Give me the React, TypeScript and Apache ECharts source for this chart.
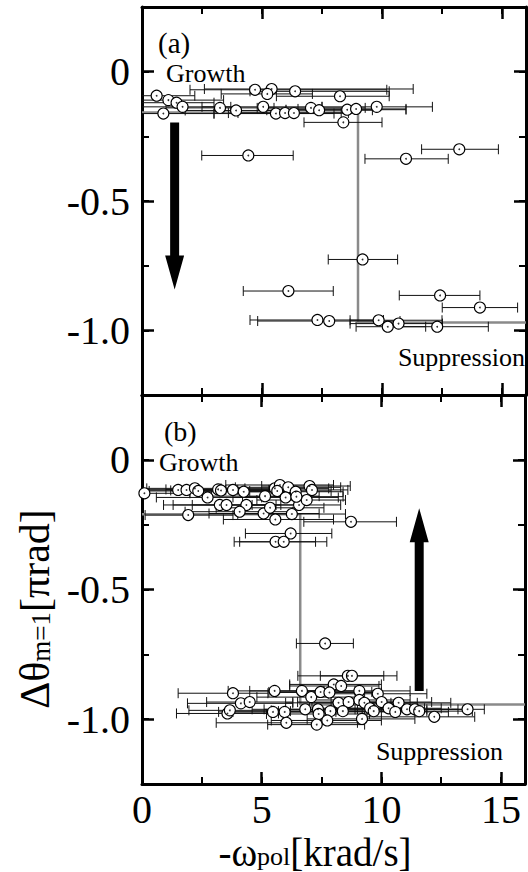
import React, { useEffect, useRef } from 'react';
import * as echarts from 'echarts';

const FONT = 'Liberation Serif';

const xTickLabels = ['0', '5', '10', '15'];
const yTickLabels = ['-1.25', '-1.0', '-0.75', '-0.5', '-0.25', '0', '0.25'];

// panel (a): [-omega_pol, dtheta, err low, err high]
const pointsA: number[][] = [
  [4.71, -0.070, 2.0, 10.2], [5.40, -0.067, 2.6, 11.3], [5.22, -0.086, 3.3, 7.1],
  [6.38, -0.076, 4.5, 10.3], [8.25, -0.095, 5.6, 10.3], [0.61, -0.093, -1.5, 2.2],
  [1.10, -0.110, -1.0, 3.4], [1.44, -0.120, -0.8, 3.0], [1.69, -0.136, -0.5, 3.7],
  [0.89, -0.162, -1.0, 3.0], [3.25, -0.140, 1.0, 5.5], [3.92, -0.150, 1.8, 6.0],
  [5.05, -0.136, 2.5, 7.5], [5.58, -0.162, 3.0, 8.0], [5.96, -0.160, 3.6, 8.3],
  [6.33, -0.160, 4.0, 8.6], [7.04, -0.140, 4.8, 9.3], [7.38, -0.149, 5.2, 9.6],
  [8.55, -0.147, 6.0, 11.0], [8.92, -0.144, 6.5, 11.0], [9.78, -0.136, 7.5, 12.1],
  [8.39, -0.196, 6.75, 10.0], [4.43, -0.324, 2.49, 6.3], [11.0, -0.337, 9.29, 12.76],
  [13.22, -0.300, 11.65, 14.85], [9.19, -0.726, 7.76, 10.65], [6.10, -0.848, 4.22, 7.97],
  [12.42, -0.865, 10.72, 14.08], [14.08, -0.912, 12.51, 15.65], [7.31, -0.960, 4.5, 10.06],
  [7.80, -0.964, 4.82, 10.75], [9.86, -0.961, 8.67, 12.5], [10.24, -0.986, 8.92, 11.82],
  [10.69, -0.974, 8.67, 12.52], [12.30, -0.986, 10.2, 14.43],
];

// panel (b)
const pointsB: number[][] = [
  [0.10, -0.129, -2.0, 2.0], [1.51, -0.116, -0.5, 3.5], [1.86, -0.116, -0.3, 4.0],
  [2.21, -0.110, 0.2, 4.3], [2.35, -0.120, 0.3, 4.5], [2.74, -0.145, 0.6, 5.0],
  [3.18, -0.114, 1.0, 5.4], [3.30, -0.118, 1.2, 5.5], [3.80, -0.116, 1.6, 6.0],
  [4.25, -0.123, 2.0, 6.5], [3.25, -0.174, 0.9, 5.6], [3.53, -0.174, 1.3, 5.8],
  [4.36, -0.174, 2.1, 6.6], [4.08, -0.200, 1.8, 6.3], [1.93, -0.213, 0.13, 3.8],
  [5.08, -0.207, 2.8, 7.4], [5.57, -0.230, 3.4, 8.0], [6.26, -0.209, 4.0, 8.5],
  [5.14, -0.140, 2.9, 7.4], [5.35, -0.185, 3.1, 7.6], [5.55, -0.110, 3.3, 7.8],
  [5.76, -0.097, 3.5, 8.0], [6.11, -0.106, 3.9, 8.3], [5.65, -0.120, 3.4, 7.9],
  [6.00, -0.145, 3.8, 8.2], [6.42, -0.123, 4.3, 8.4], [6.56, -0.174, 4.6, 8.3],
  [6.88, -0.155, 4.8, 8.5], [7.00, -0.101, 5.0, 8.7], [7.10, -0.116, 5.3, 8.6],
  [6.45, -0.142, 4.2, 8.4], [8.73, -0.239, 6.76, 10.63], [6.21, -0.284, 4.32, 7.93],
  [5.58, -0.316, 3.85, 7.25], [5.92, -0.316, 4.08, 7.72],
  [7.65, -0.708, 6.45, 8.83], [8.60, -0.833, 6.51, 10.1], [8.77, -0.833, 7.45, 10.65],
  [8.01, -0.866, 6.17, 10.0], [8.32, -0.872, 6.17, 9.9], [3.80, -0.900, 1.51, 5.26],
  [5.54, -0.891, 3.6, 7.6], [6.68, -0.891, 4.5, 8.9], [7.07, -0.915, 4.8, 9.3],
  [7.46, -0.895, 5.3, 9.6], [7.83, -0.897, 5.6, 10.0], [9.08, -0.891, 6.8, 11.2],
  [9.85, -0.902, 7.8, 11.9], [4.13, -0.939, 1.9, 6.3], [4.50, -0.934, 2.7, 6.3],
  [8.21, -0.937, 6.0, 10.4], [8.63, -0.934, 6.5, 10.8], [9.08, -0.926, 7.0, 11.2],
  [9.29, -0.937, 7.1, 11.5], [10.01, -0.934, 7.9, 12.1], [10.72, -0.937, 8.6, 12.9],
  [3.57, -0.978, 1.44, 5.7], [3.67, -0.966, 1.96, 5.4], [5.47, -0.972, 3.2, 7.7],
  [5.96, -0.972, 3.8, 8.1], [6.82, -0.962, 4.6, 9.0], [7.35, -0.962, 5.1, 9.6],
  [7.38, -0.980, 5.2, 9.5], [7.87, -0.969, 5.7, 10.0], [8.39, -0.969, 6.2, 10.6],
  [9.53, -0.958, 7.3, 11.8], [9.68, -0.969, 7.5, 11.9], [10.30, -0.958, 8.1, 12.5],
  [10.58, -0.972, 8.4, 12.8], [11.07, -0.962, 8.9, 13.2], [11.40, -0.962, 9.2, 13.6],
  [11.58, -0.969, 9.4, 13.8], [13.60, -0.962, 11.9, 14.3], [12.21, -0.991, 9.3, 13.9],
  [6.03, -1.014, 3.1, 9.0], [7.30, -1.021, 5.25, 9.3], [7.74, -1.005, 5.4, 10.0],
  [9.19, -0.999, 6.9, 11.4],
];

const stepA: number[][] = [[0, -0.158], [9.0, -0.158], [9.0, -0.97], [16, -0.97]];
const stepB: number[][] = [[0, -0.21], [6.61, -0.21], [6.61, -0.943], [16, -0.943]];
// [x, y start, y tip]
const arrowA: number[][] = [[1.36, -0.197, -0.842]];
const arrowB: number[][] = [[11.58, -0.891, -0.187]];

const errRender = (params: any, api: any) => {
  const y = api.value(1);
  const lo = api.coord([api.value(2), y]);
  const hi = api.coord([api.value(3), y]);
  const cs = params.coordSys;
  const x0 = Math.max(lo[0], cs.x);
  const x1 = Math.min(hi[0], cs.x + cs.width);
  const cy = lo[1];
  const st = { stroke: '#111', lineWidth: 1 };
  const children: any[] = [
    { type: 'line', shape: { x1: x0, y1: cy, x2: x1, y2: cy }, style: st },
  ];
  if (lo[0] >= cs.x) children.push({ type: 'line', shape: { x1: x0, y1: cy - 5, x2: x0, y2: cy + 5 }, style: st });
  if (hi[0] <= cs.x + cs.width) children.push({ type: 'line', shape: { x1: x1, y1: cy - 5, x2: x1, y2: cy + 5 }, style: st });
  return { type: 'group', children };
};

const arrowRender = (params: any, api: any) => {
  const a = api.coord([api.value(0), api.value(1)]);
  const b = api.coord([api.value(0), api.value(2)]);
  const dir = b[1] > a[1] ? 1 : -1;
  const sw = 4.5, hw = 9.5, hl = 34;
  const hb = b[1] - dir * hl;
  return {
    type: 'polygon',
    shape: {
      points: [
        [a[0] - sw, a[1]], [a[0] + sw, a[1]], [a[0] + sw, hb], [a[0] + hw, hb],
        [b[0], b[1]], [a[0] - hw, hb], [a[0] - sw, hb],
      ],
    },
    style: { fill: '#000' },
  };
};

function buildAxes() {
  const xAxis: any[] = [];
  const yAxis: any[] = [];
  for (let g = 0; g < 2; g++) {
    for (const pos of ['bottom', 'top']) {
      // major
      xAxis.push({
        type: 'value', gridIndex: g, position: pos, min: 0, max: 16, interval: 5,
        axisLine: { show: true, onZero: false, lineStyle: { color: '#000', width: 3 } },
        axisTick: { show: true, inside: true, length: 12, lineStyle: { color: '#000', width: 2.5 } },
        splitLine: { show: false },
        axisLabel: {
          show: g === 1 && pos === 'bottom',
          formatter: (v: number) => (xTickLabels.includes(String(v)) ? String(v) : ''),
          fontFamily: FONT, fontSize: 40, lineHeight: 34, color: '#000', margin: 8,
        },
      });
      // minor
      xAxis.push({
        type: 'value', gridIndex: g, position: pos, min: 0, max: 16, interval: 2.5,
        axisLine: { show: false, onZero: false },
        axisTick: { show: true, inside: true, length: 7, lineStyle: { color: '#000', width: 2 } },
        splitLine: { show: false },
        axisLabel: { show: false },
      });
    }
    for (const pos of ['left', 'right']) {
      yAxis.push({
        type: 'value', gridIndex: g, position: pos, min: -1.25, max: 0.25, interval: 0.25,
        axisLine: { show: true, onZero: false, lineStyle: { color: '#000', width: 3 } },
        axisTick: { show: true, inside: true, length: 7, lineStyle: { color: '#000', width: 2 } },
        splitLine: { show: false },
        axisLabel: { show: false },
      });
      yAxis.push({
        type: 'category', gridIndex: g, position: pos, data: yTickLabels, boundaryGap: false,
        axisLine: { show: false, onZero: false },
        axisTick: {
          show: true, inside: true, length: 12, interval: (i: number) => i % 2 === 1,
          lineStyle: { color: '#000', width: 2.5 },
        },
        splitLine: { show: false },
        axisLabel: {
          show: pos === 'left', interval: (i: number) => i % 2 === 1,
          fontFamily: FONT, fontSize: 40, color: '#000', margin: 12,
        },
      });
    }
  }
  return { xAxis, yAxis };
}

function panelSeries(g: number, pts: number[][], step: number[][], arrow: number[][]) {
  const xi = g * 4;
  const yi = g * 4;
  return [
    {
      type: 'line', xAxisIndex: xi, yAxisIndex: yi, data: step, symbol: 'none',
      lineStyle: { color: '#8a8a8a', width: 2.5 }, z: 1, silent: true,
    },
    {
      type: 'custom', xAxisIndex: xi, yAxisIndex: yi, data: pts, renderItem: errRender,
      encode: { x: 0, y: 1 }, z: 2, silent: true,
    },
    {
      type: 'scatter', xAxisIndex: xi, yAxisIndex: yi, data: pts.map((p) => [p[0], p[1]]),
      symbol: 'circle', symbolSize: 11,
      itemStyle: { color: '#fff', borderColor: '#000', borderWidth: 1.1, opacity: 1 }, z: 3,
    },
    {
      type: 'scatter', xAxisIndex: xi, yAxisIndex: yi, data: pts.map((p) => [p[0], p[1]]),
      symbol: 'circle', symbolSize: 1.8, itemStyle: { color: '#000' }, z: 4,
    },
    {
      type: 'custom', xAxisIndex: xi, yAxisIndex: yi, data: arrow, renderItem: arrowRender,
      encode: { x: 0, y: 1 }, z: 5, silent: true,
    },
  ];
}

function txt(text: string, x: number, y: number, size: number, align = 'left') {
  return {
    type: 'text', x, y, z: 100,
    style: { text, fontFamily: FONT, fontSize: size, fill: '#000', align, verticalAlign: 'middle' },
  };
}

export default function App() {
  const ref = useRef<HTMLDivElement>(null);
  useEffect(() => {
    if (!ref.current) return;
    const chart = echarts.init(ref.current, null, { renderer: 'svg' });
    const { xAxis, yAxis } = buildAxes();
    chart.setOption({
      animation: false,
      backgroundColor: '#fff',
      textStyle: { fontFamily: FONT },
      grid: [
        { left: 142, top: 7, width: 384, height: 388 },
        { left: 142, top: 395, width: 384, height: 389 },
      ],
      xAxis,
      yAxis,
      series: [
        ...panelSeries(0, pointsA, stepA, arrowA),
        ...panelSeries(1, pointsB, stepB, arrowB),
      ],
      graphic: [
        txt('(a)', 158, 43, 29),
        txt('Growth', 166, 73, 26),
        txt('Suppression', 525, 357, 26, 'right'),
        txt('(b)', 164, 431, 28),
        txt('Growth', 159, 462, 26),
        txt('Suppression', 503, 751, 26, 'right'),
        {
          type: 'text', x: 315, y: 852, z: 100,
          style: {
            text: '-ω{s|pol}[krad/s]', fontFamily: FONT, fontSize: 39, lineHeight: 34, fill: '#000',
            align: 'center', verticalAlign: 'middle',
            rich: { s: { fontFamily: FONT, fontSize: 26, lineHeight: 22, verticalAlign: 'bottom', fill: '#000' } },
          },
        },
        {
          type: 'text', x: 35, y: 609, rotation: Math.PI / 2, z: 100,
          style: {
            text: 'Δθ{s|m=1}[πrad]', fontFamily: FONT, fontSize: 42, lineHeight: 38, fill: '#000',
            align: 'center', verticalAlign: 'middle',
            rich: { s: { fontFamily: FONT, fontSize: 27, lineHeight: 24, verticalAlign: 'bottom', fill: '#000' } },
          },
        },
      ],
    });
    return () => chart.dispose();
  }, []);
  return (
    <div
      ref={ref}
      style={{ position: 'fixed', left: 0, top: 0, width: 528, height: 872, background: '#fff' }}
    />
  );
}
